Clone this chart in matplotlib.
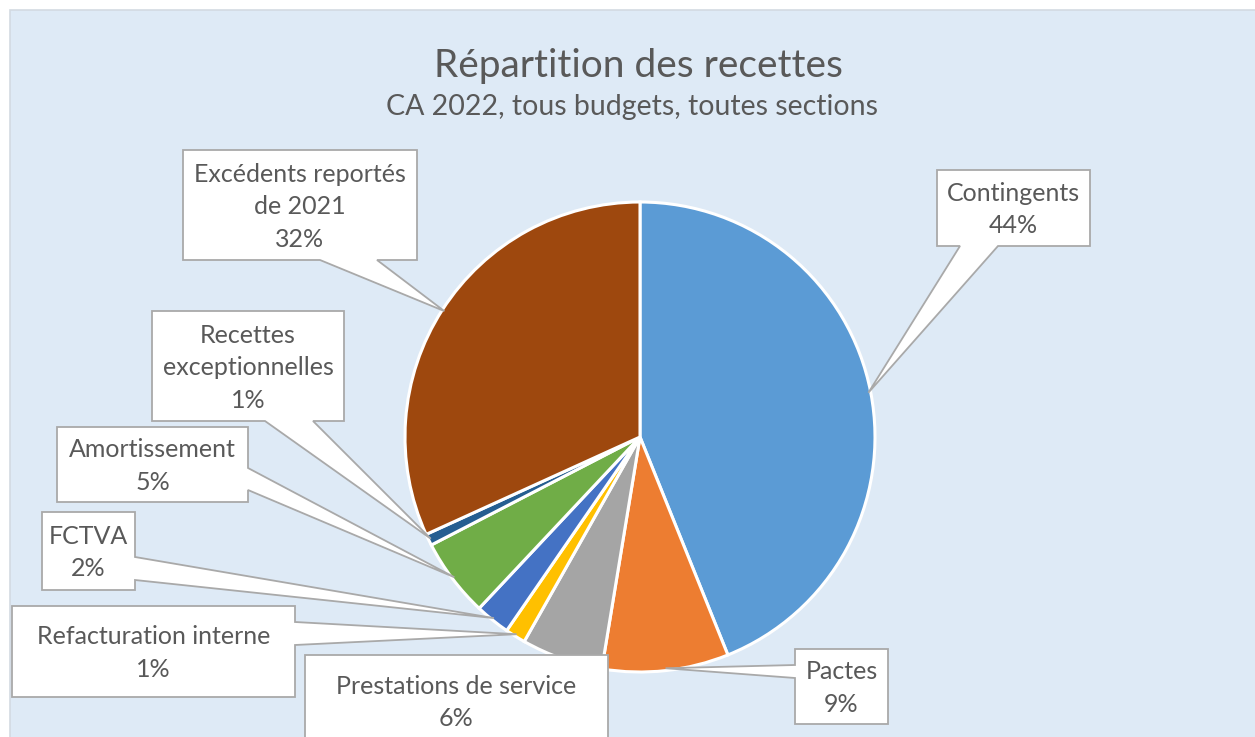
import matplotlib
matplotlib.use('Agg')
import matplotlib.pyplot as plt
from matplotlib.patches import Polygon, Rectangle
import numpy as np

# ---------------- data ----------------
categories = ["Contingents", "Pactes", "Prestations de service", "Refacturation interne",
              "FCTVA", "Amortissement", "Recettes exceptionnelles", "Excédents reportés de 2021"]
label_lines = [["Contingents"], ["Pactes"], ["Prestations de service"], ["Refacturation interne"],
               ["FCTVA"], ["Amortissement"], ["Recettes", "exceptionnelles"],
               ["Excédents reportés", "de 2021"]]
values = [43.9, 8.7, 5.6, 1.4, 2.4, 5.4, 0.8, 31.8]
colors = ['#5B9BD5', '#ED7D31', '#A5A5A5', '#FFC000', '#4472C4', '#70AD47', '#255E91', '#9E480E']
title = "Répartition des recettes"
subtitle = "CA 2022, tous budgets, toutes sections"

# ---------------- layout (pixels, y down) ----------------
W, H = 1255, 737
FONT = ['Lato', 'DejaVu Sans']
TXT = '#595959'
# box: x0, y0, x1, y1, side of pointer, base range
boxes = [
    (937, 170, 1090, 246, 'bottom', (960, 998)),
    (795, 649, 888, 724, 'left', (665, 678)),
    (305, 655, 608, 745, None, None),
    (12, 606, 295, 697, 'right', (622, 645)),
    (42, 512, 135, 590, 'right', (557, 580)),
    (57, 427, 248, 502, 'right', (468, 490)),
    (152, 311, 344, 421, 'bottom', (265, 313)),
    (183, 150, 417, 260, 'bottom', (320, 377)),
]

fig = plt.figure(figsize=(W / 100, H / 100), dpi=100)
fig.patch.set_facecolor('white')
ax = fig.add_axes([0, 0, 1, 1])


def P(x, y):
    return (x, H - y)


cx, cy, r = 640, 437, 235
wedges, _ = ax.pie(values, colors=colors, startangle=90, counterclock=False,
                   center=P(cx, cy), radius=r, frame=True,
                   wedgeprops=dict(edgecolor='white', linewidth=2.2))
for w in wedges:
    w.set_zorder(2)
ax.set_xlim(0, W)
ax.set_ylim(0, H)
ax.set_aspect('equal')
ax.axis('off')

# chart area background
ax.add_patch(Rectangle(P(10, H + 5), W, H - 5, facecolor='#DEEAF6', edgecolor='#D3DAE2',
                       linewidth=1.2, zorder=0))

# title
ax.text(*P(638, 77), title, ha='center', va='baseline', fontsize=28, color=TXT, family=FONT, zorder=5)
ax.text(*P(632, 115), subtitle, ha='center', va='baseline', fontsize=20.5, color=TXT, family=FONT, zorder=5)

total = sum(values)
fs_pt = 18
fs_px = fs_pt * 100 / 72
line_gap = 32.5
for i, (w, b) in enumerate(zip(wedges, boxes)):
    x0, y0, x1, y1, side, base = b
    th = np.deg2rad((w.theta1 + w.theta2) / 2)
    tip = (w.center[0] + w.r * 0.99 * np.cos(th), w.center[1] + w.r * 0.99 * np.sin(th))
    TL, TR, BR, BL = P(x0, y0), P(x1, y0), P(x1, y1), P(x0, y1)
    if side == 'bottom':
        verts = [TL, TR, BR, P(base[1], y1), tip, P(base[0], y1), BL]
    elif side == 'right':
        verts = [TL, TR, P(x1, base[0]), tip, P(x1, base[1]), BR, BL]
    elif side == 'left':
        verts = [TL, TR, BR, BL, P(x0, base[1]), tip, P(x0, base[0])]
    else:
        verts = [TL, TR, BR, BL]
    ax.add_patch(Polygon(verts, closed=True, facecolor='white', edgecolor='#A9A9A9',
                         linewidth=1.3, zorder=3, joinstyle='miter'))
    lines = label_lines[i] + ["%.0f%%" % (values[i] / total * 100)]
    n = len(lines)
    yc = (y0 + y1) / 2 if side is not None else 701
    xc = (x0 + x1) / 2
    for k, t in enumerate(lines):
        yy = yc + (k - (n - 1) / 2) * line_gap + 0.36 * fs_px
        ax.text(*P(xc, yy), t, ha='center', va='baseline', fontsize=fs_pt, color=TXT,
                family=FONT, zorder=4)

fig.savefig('out.png', dpi=100, facecolor='white')
